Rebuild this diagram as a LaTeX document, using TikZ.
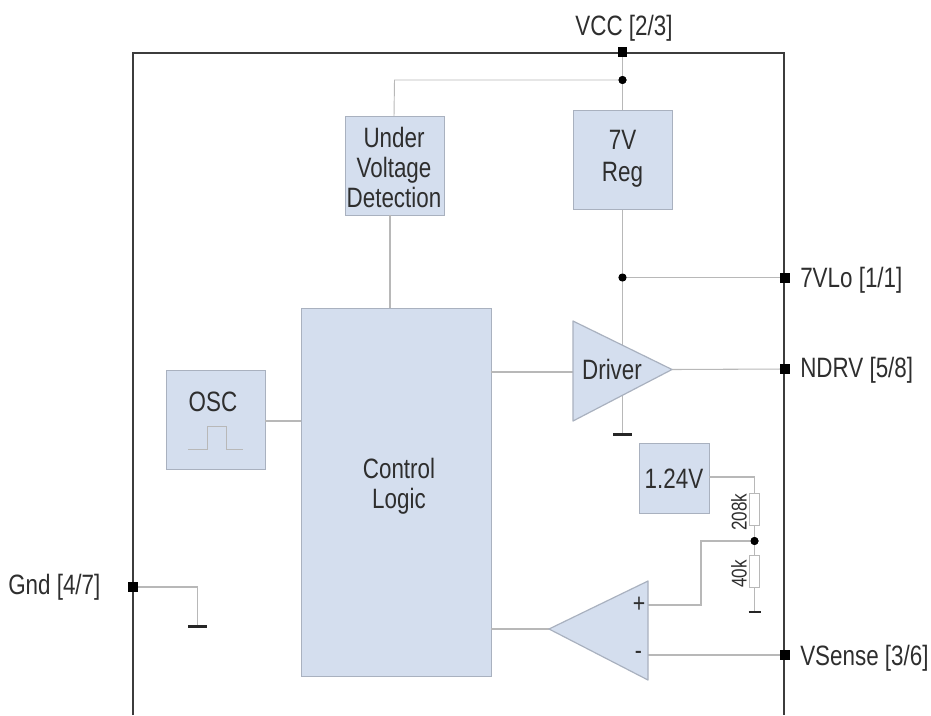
\documentclass[tikz,border=0pt]{standalone}
\usepackage{fontspec}
\setmainfont[FakeStretch=0.8]{Liberation Sans}
\definecolor{blockfill}{HTML}{D4DEEE}
\definecolor{blockline}{HTML}{A9B1BF}
\definecolor{wirecol}{HTML}{B8B8B8}
\definecolor{inkcol}{HTML}{2E2E2E}
\definecolor{framecol}{HTML}{3C3C3C}
\tikzset{
  px/.style={x=0.75pt,y=-0.75pt},
  block/.style={draw=blockline,fill=blockfill,line width=0.9pt,inner sep=0pt,anchor=north west,align=center,font=\fontsize{21pt}{22.8pt}\selectfont,text=inkcol},
  bsize/.style 2 args={minimum width=#1*0.75pt,minimum height=#2*0.75pt},
  wire/.style={draw=wirecol,line width=0.8pt},
  pin/.style={fill=black,inner sep=0pt,minimum size=7.2pt,draw=none,rectangle},
  joint/.style={fill=black,circle,inner sep=0pt,minimum size=6pt,draw=none},
  pinlabel/.style={font=\fontsize{21pt}{22pt}\selectfont,text=inkcol,inner sep=0pt},
  groundbar/.style={draw=black!85,line width=1.6pt},
  res/.style={draw=wirecol,fill=white,line width=0.75pt,inner sep=0pt,minimum width=7.9pt,minimum height=24pt},
  reslabel/.style={font=\fontsize{16pt}{16pt}\selectfont,text=inkcol,rotate=90,inner sep=0pt}
}
\begin{document}
\begin{tikzpicture}[px]
\useasboundingbox (0,0) rectangle (931,715);
% package outline
\draw[framecol,line width=1.2pt] (133,715) -- (133,53) -- (784,53) -- (784,715);
% blocks
\node[block,bsize={99}{99},text depth=0pt] (uvd) at (344.5,116) {};
\node[font=\fontsize{21pt}{22.8pt}\selectfont,text=inkcol,align=center,inner sep=0pt] (uvdtext) at (394,167.5) {Under\\Voltage\\Detection};
\node[block,bsize={99}{99}] (reg) at (573,110) {};
\node[font=\fontsize{21pt}{24pt}\selectfont,text=inkcol,align=center,inner sep=0pt] (regtext) at (622.5,159) {7V\\Reg};
\node[block,bsize={190}{368}] (ctrl) at (301,308) {};
\node[block,bsize={99}{99}] (osc) at (166,370) {};
\node[block,bsize={70}{70},font=\fontsize{21pt}{22pt}\selectfont] (ref) at (639,443) {};
\node[font=\fontsize{21pt}{22pt}\selectfont,text=inkcol,inner sep=0pt] (reftext) at (674,479) {1.24V};
\node[font=\fontsize{21pt}{22.8pt}\selectfont,text=inkcol,align=center,inner sep=0pt] (ctrltext) at (399,486) {Control\\Logic};
\node[font=\fontsize{21pt}{22pt}\selectfont,text=inkcol,inner sep=0pt] (osctext) at (213,402) {OSC};
% triangles
\coordinate (drvA) at (573,321);
\coordinate (drvB) at (573,421);
\coordinate (drvT) at (672,369.5);
\coordinate (cmpA) at (648,581);
\coordinate (cmpB) at (648,680);
\coordinate (cmpT) at (549,629);
% pins and joints
\node[pin] (pVcc) at (622.5,52) {};
\node[pin] (pLo) at (785,278) {};
\node[pin] (pNdrv) at (785,369) {};
\node[pin] (pSense) at (785,655) {};
\node[pin] (pGnd) at (133,587) {};
\node[joint] (jVcc) at (622.5,80) {};
\node[joint] (jLo) at (622.5,277.5) {};
\node[joint] (jDiv) at (754.5,541) {};
% resistors
\node[res] (r1) at (754.5,509) {};
\node[res] (r2) at (754.5,571) {};
% helper points
\coordinate (gDrv) at (622.5,434.5);
\coordinate (gGnd) at (197.5,626.5);
\coordinate (gDiv) at (754.5,612);
\coordinate (drvTop) at (622.5,346);
\coordinate (drvBot) at (622.5,395);
\coordinate (uvdTop) at (394,116);
\coordinate (cmpPlus) at (648,605);
\coordinate (cmpMinus) at (648,655);
\coordinate (ctrlDrv) at (491,372);
\coordinate (drvIn) at (573,372);
\coordinate (ctrlCmp) at (491,629);
\coordinate (oscOut) at (265,421);
\coordinate (ctrlOsc) at (301,421);
\coordinate (refOut) at (709,477);
\coordinate (uvdBot) at (390,215);
\coordinate (ctrlTop) at (390,308);
% wires
\draw[wire] (pVcc.center) -- (reg.north -| pVcc);
\draw[wire,line width=0.7pt] (jVcc.center) -- (394.5,80) -- (uvdTop);
\draw[wire] (uvdBot) -- (ctrlTop);
\draw[wire] (reg.south -| jLo) -- (drvTop);
\draw[wire] (jLo.center) -- (pLo.center |- jLo);
\draw[wire] (ctrlDrv) -- (drvIn);
\draw[wire] (drvT) -- (pNdrv.center);
\draw[wire] (drvBot) -- (gDrv);
\draw[wire] (oscOut) -- (ctrlOsc);
\draw[wire] (ctrlCmp) -- (cmpT);
\draw[wire] (refOut) -- (refOut -| r1) -- (r1.north);
\draw[wire] (r1.south) -- (jDiv.center);
\draw[wire] (jDiv.center) -- (r2.north);
\draw[wire] (r2.south) -- (gDiv);
\draw[wire] (jDiv.center) -- (701,541) -- (701,605) -- (cmpPlus);
\draw[wire] (cmpMinus) -- (pSense.center);
\draw[wire] (pGnd.center) -- (197.5,587) -- (gGnd);
% triangles on top of their wires
\draw[draw=blockline,fill=blockfill,line width=0.9pt,line join=round] (drvA) -- (drvT) -- (drvB) -- cycle;
\draw[draw=blockline,fill=blockfill,line width=0.9pt,line join=round] (cmpA) -- (cmpT) -- (cmpB) -- cycle;
% redraw pins and joints above wires
\node[pin] at (pVcc) {};
\node[pin] at (pLo) {};
\node[pin] at (pNdrv) {};
\node[pin] at (pSense) {};
\node[pin] at (pGnd) {};
\node[joint] at (jVcc) {};
\node[joint] at (jLo) {};
\node[joint] at (jDiv) {};
% ground bars
\draw[groundbar] ([xshift=-7pt]gDrv) -- ([xshift=7pt]gDrv);
\draw[groundbar] ([xshift=-7pt]gGnd) -- ([xshift=7pt]gGnd);
\draw[groundbar,line width=1pt] ([xshift=-4.5pt]gDiv) -- ([xshift=4.5pt]gDiv);
% pulse
\draw[wire,line width=0.7pt] (188,449) -- (207,449) -- (207,426) -- (226,426) -- (226,449) -- (243,449);
% text
\node[font=\fontsize{21pt}{22pt}\selectfont,text=inkcol,inner sep=0pt] (drvtext) at (612,369) {Driver};
\node[font=\fontsize{20pt}{20pt}\selectfont,text=inkcol,inner sep=0pt] (plus) at (639,605) {+};
\node[font=\fontsize{20pt}{20pt}\selectfont,text=inkcol,inner sep=0pt] (minus) at (638.5,655) {-};
\node[reslabel] (l208) at (739,512) {208k};
\node[reslabel] (l40) at (739,574) {40k};
\node[pinlabel] (tVcc) at (624,28) {VCC [2/3]};
\node[pinlabel,anchor=west] (tLo) at (800,280) {7VLo [1/1]};
\node[pinlabel,anchor=west] (tNdrv) at (800,370) {NDRV [5/8]};
\node[pinlabel,anchor=west] (tSense) at (800,658) {VSense [3/6]};
\node[pinlabel,anchor=west] (tGnd) at (8,587) {Gnd [4/7]};
\end{tikzpicture}
\end{document}
